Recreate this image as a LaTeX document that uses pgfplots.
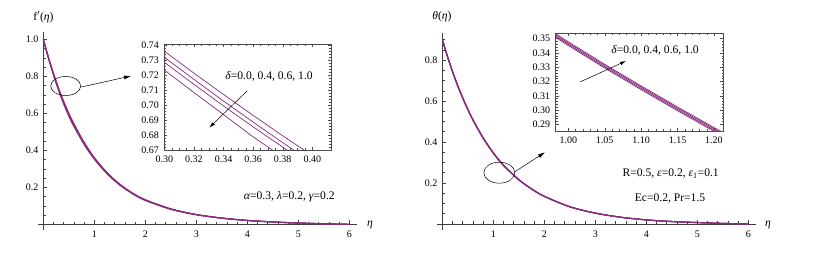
\documentclass[border=0pt]{standalone}
\usepackage{fontspec}
\setmainfont{Liberation Serif}
\usepackage{pgfplots}
\pgfplotsset{compat=1.18}
\usepackage{pgfplotstable}
\usetikzlibrary{arrows.meta}
\definecolor{curve}{RGB}{135,45,125}
\newcommand{\fs}{\fontsize{10}{12}\selectfont}
\newcommand{\fa}{\fontsize{11.6}{13}\selectfont}

\pgfplotstableread{
eta d0 d4 d6 d10
0 1 1 1 1
0.1 0.903 0.902 0.901 0.899
0.2 0.816 0.813 0.811 0.807
0.3 0.7362 0.7321 0.7288 0.7236
0.4 0.665 0.660 0.656 0.650
0.5 0.601 0.596 0.592 0.585
0.6 0.544 0.539 0.535 0.529
0.8 0.444 0.440 0.437 0.432
1.0 0.361 0.358 0.356 0.352
1.25 0.280 0.278 0.276 0.273
1.5 0.217 0.216 0.214 0.212
1.75 0.169 0.168 0.167 0.165
2.0 0.133 0.132 0.131 0.129
2.5 0.084 0.083 0.082 0.081
3.0 0.053 0.053 0.052 0.052
3.5 0.034 0.034 0.034 0.033
4.0 0.021 0.021 0.021 0.021
4.5 0.013 0.013 0.013 0.013
5.0 0.007 0.007 0.007 0.007
5.5 0.003 0.003 0.003 0.003
6.0 0 0 0 0
}\fmain

\pgfplotstableread{
eta d0 d4 d6 d10
0.29 0.7436 0.7396 0.7363 0.7313
0.30 0.7362 0.7321 0.7288 0.7236
0.32 0.7215 0.7173 0.7140 0.7085
0.34 0.7072 0.7028 0.6995 0.6937
0.36 0.6932 0.6887 0.6855 0.6788
0.38 0.6795 0.6749 0.6719 0.6652
0.40 0.6662 0.6614 0.6585 0.6515
0.42 0.6532 0.6482 0.6454 0.6381
}\finset

\pgfplotstableread{
eta d0 d4 d6 d10
0 0.900 0.900 0.900 0.900
0.1 0.8175 0.8180 0.8185 0.8190
0.2 0.7430 0.7437 0.7443 0.7450
0.3 0.6745 0.6755 0.6765 0.6775
0.4 0.6135 0.6145 0.6155 0.6165
0.5 0.5575 0.5585 0.5595 0.5605
0.6 0.5065 0.5075 0.5085 0.5095
0.8 0.4185 0.4195 0.4205 0.4215
1.0 0.3452 0.34605 0.34695 0.3478
1.2 0.2851 0.28595 0.28685 0.2877
1.5 0.2150 0.2157 0.2163 0.2170
1.75 0.1703 0.1708 0.1713 0.1718
2.0 0.1343 0.1348 0.1352 0.1357
2.5 0.0835 0.0838 0.0842 0.0845
3.0 0.0527 0.0529 0.0531 0.0533
3.5 0.0328 0.0329 0.0331 0.0332
4.0 0.0199 0.0200 0.0201 0.0202
4.5 0.0119 0.0120 0.0120 0.0121
5.0 0.0069 0.0070 0.0070 0.0071
5.5 0.0030 0.0030 0.0030 0.0030
6.0 0 0 0 0
}\tmain

\pgfplotstableread{
eta d0 d4 d6 d10
0.97 0.3550 0.35585 0.35675 0.3576
1.00 0.3452 0.34605 0.34695 0.3478
1.05 0.3294 0.33025 0.33115 0.3320
1.10 0.3143 0.31515 0.31605 0.3169
1.15 0.2995 0.30035 0.30125 0.3021
1.20 0.2851 0.28595 0.28685 0.2877
1.23 0.2767 0.27755 0.27845 0.2793
}\tinset

\pgfplotsset{
  mainax/.style={
    scale only axis, axis lines=middle,
    axis line style={-, draw=black!75, line width=0.7pt},
    enlargelimits=false, tick align=inside,
    major tick length=4pt, minor tick length=2.5pt,
    every tick/.style={black!75, line width=0.5pt},
    tick label style={font=\fs},
    /pgf/number format/assume math mode=true,
    xticklabel style={yshift=-3pt},
    yticklabel style={xshift=-1.5pt},
    xmin=-0.1, xmax=6.15, width=318.75pt,
    xtick={1,2,3,4,5,6},
    minor xtick={0.2,0.4,...,6.01},
  },
  insetax/.style={
    scale only axis, enlargelimits=false, tick align=inside,
    axis line style={draw=black!70, line width=0.6pt},
    major tick length=3pt, minor tick length=1.8pt,
    every tick/.style={black!70, line width=0.4pt},
    tick label style={font=\fs},
    /pgf/number format/assume math mode=true,
    axis background/.style={fill=white},
    xticklabel style={yshift=-2pt},
    yticklabel style={xshift=-2pt},
  },
  mainline/.style={curve, line width=1.1pt, smooth},
}

\begin{document}
\begin{tikzpicture}
\useasboundingbox (0pt,0pt) rectangle (814pt,256pt);

% ---------- left main ----------
\begin{axis}[mainax, anchor=south west, at={(38.2pt,26.1pt)},
  ymin=-0.03, ymax=1.04, height=197.95pt,
  ytick={0.2,0.4,0.6,0.8,1.0},
  minor ytick={0.05,0.1,...,1.01},
  yticklabel style={/pgf/number format/.cd, fixed, fixed zerofill, precision=1}]
\addplot[mainline] table[x=eta,y=d0]{\fmain};
\addplot[mainline] table[x=eta,y=d4]{\fmain};
\addplot[mainline] table[x=eta,y=d6]{\fmain};
\addplot[mainline] table[x=eta,y=d10]{\fmain};
\end{axis}

% ---------- left inset ----------
\begin{axis}[insetax, anchor=south west, at={(164.3pt,106pt)},
  width=166.7pt, height=105.7pt,
  xmin=0.30, xmax=0.4126, ymin=0.67, ymax=0.7408,
  xtick={0.30,0.32,...,0.401}, minor x tick num=3,
  ytick={0.67,0.68,...,0.741}, minor y tick num=4,
  xticklabel style={/pgf/number format/.cd, fixed, fixed zerofill, precision=2},
  yticklabel style={/pgf/number format/.cd, fixed, fixed zerofill, precision=2}]
\addplot[curve, line width=0.7pt] table[x=eta,y=d0]{\finset};
\addplot[curve, line width=0.7pt] table[x=eta,y=d4]{\finset};
\addplot[curve, line width=0.7pt] table[x=eta,y=d6]{\finset};
\addplot[curve, line width=0.7pt] table[x=eta,y=d10]{\finset};
\end{axis}

% ---------- right main ----------
\begin{axis}[mainax, anchor=south west, at={(437.2pt,25.85pt)},
  ymin=-0.03, ymax=0.93, height=196.8pt,
  ytick={0.2,0.4,0.6,0.8},
  minor ytick={0.05,0.1,...,0.91},
  yticklabel style={/pgf/number format/.cd, fixed, fixed zerofill, precision=1}]
\addplot[mainline] table[x=eta,y=d0]{\tmain};
\addplot[mainline] table[x=eta,y=d4]{\tmain};
\addplot[mainline] table[x=eta,y=d6]{\tmain};
\addplot[mainline] table[x=eta,y=d10]{\tmain};
\end{axis}

% ---------- right inset ----------
\begin{axis}[insetax, anchor=south west, at={(555.7pt,125pt)},
  width=167.6pt, height=98pt,
  xmin=0.9827, xmax=1.2128, ymin=0.2853, ymax=0.354,
  xtick={1.00,1.05,...,1.201}, minor x tick num=4,
  ytick={0.29,0.30,...,0.351}, minor y tick num=4,
  xticklabel style={/pgf/number format/.cd, fixed, fixed zerofill, precision=2},
  yticklabel style={/pgf/number format/.cd, fixed, fixed zerofill, precision=2}]
\addplot[curve, line width=0.75pt] table[x=eta,y=d0]{\tinset};
\addplot[curve, line width=0.75pt] table[x=eta,y=d4]{\tinset};
\addplot[curve, line width=0.75pt] table[x=eta,y=d6]{\tinset};
\addplot[curve, line width=0.75pt] table[x=eta,y=d10]{\tinset};
\end{axis}

% ---------- annotations ----------
\node[font=\fa] at (43.5pt,239pt) {f$'$(\textit{η})};
\node[font=\fa] at (370pt,31pt) {\textit{η}};
\draw[black, line width=0.5pt] (65.7pt,170pt) ellipse [x radius=15pt, y radius=9.5pt];
\draw[black, line width=0.5pt, -{Latex[length=7pt,width=4pt]}] (80pt,168.7pt) -- (131pt,180pt);
\node[font=\fa] at (289.3pt,59.3pt) {\textit{α}=0.3, \textit{λ}=0.2, \textit{γ}=0.2};
\node[font=\fa] at (269pt,180pt) {\textit{δ}=0.0, 0.4, 0.6, 1.0};
\draw[black, line width=0.5pt, -{Latex[length=6pt,width=3.5pt]}] (247.3pt,165.3pt) -- (209.3pt,128.3pt);

\node[font=\fa] at (442pt,239pt) {\textit{θ}(\textit{η})};
\node[font=\fa] at (768pt,31pt) {\textit{η}};
\draw[black, line width=0.5pt] (499.3pt,83.3pt) ellipse [x radius=15.5pt, y radius=10.5pt];
\draw[black, line width=0.5pt, -{Latex[length=7pt,width=4pt]}] (515pt,84.3pt) -- (545pt,103.7pt);
\node[font=\fa] at (670.7pt,82pt) {R=0.5, \textit{ε}=0.2, \textit{ε}\textsubscript{1}=0.1};
\node[font=\fa] at (670pt,57pt) {Ec=0.2, Pr=1.5};
\node[font=\fa] at (655pt,206pt) {\textit{δ}=0.0, 0.4, 0.6, 1.0};
\draw[black, line width=0.5pt, -{Latex[length=6pt,width=3.5pt]}] (580pt,174pt) -- (626pt,195pt);
\end{tikzpicture}
\end{document}
